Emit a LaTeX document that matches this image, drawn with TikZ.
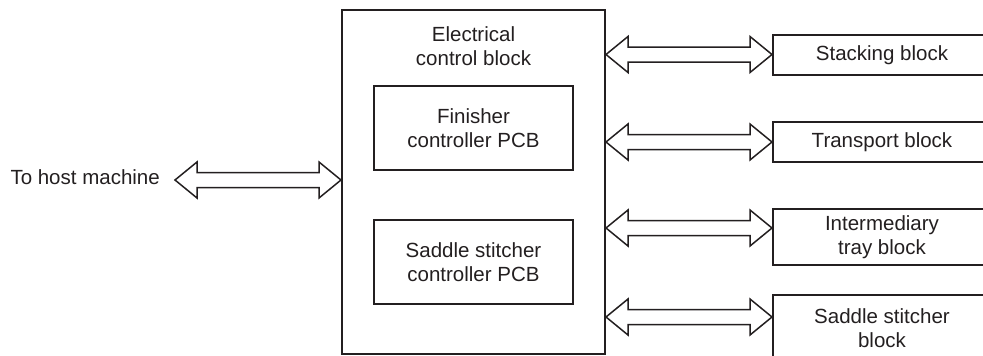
\documentclass[tikz,border=0pt]{standalone}
\usepackage{fontspec}
\setmainfont{Liberation Sans}
\usetikzlibrary{calc}
\definecolor{ink}{HTML}{231F20}
\begin{document}
\begin{tikzpicture}[x=1pt,y=-1pt,
  box/.style={draw=ink,line width=2pt,inner sep=0pt,font=\fontsize{20.5}{24}\selectfont,text=ink,align=center},
  lbl/.style={inner sep=0pt,font=\fontsize{20.5}{24}\selectfont,text=ink,align=center},
  arr/.style={draw=ink,line width=1.5pt,fill=white,line join=miter}]
\useasboundingbox (0,0) rectangle (983,356);
\clip (0,0) rectangle (983,356);
% main block
\node[box,minimum width=263pt,minimum height=344pt] (main) at (473.5,182) {};
\node[lbl] (mainlbl) at (473.5,46.5) {Electrical\\control block};
\node[box,minimum width=199pt,minimum height=84pt] (fin) at (473.5,128) {Finisher\\controller PCB};
\node[box,minimum width=199pt,minimum height=84pt] (sad) at (473.5,262) {Saddle stitcher\\controller PCB};
% right blocks
\node[box,minimum width=218pt,minimum height=40pt] (stack) at (882,55) {Stacking block};
\node[box,minimum width=218pt,minimum height=40pt] (trans) at (882,142) {Transport block};
\node[box,minimum width=218pt,minimum height=56pt] (inter) at (882,237) {Intermediary\\tray block};
\node[box,minimum width=218pt,minimum height=67pt] (sblk) at (882,328.5) {Saddle stitcher\\block};
% host label
\node[lbl,anchor=base east] (host) at (160,184.5) {To host machine};
% arrow end points
\coordinate (h1) at (175,180);
\coordinate (h2) at (main.west |- h1);
\coordinate (s1) at (main.east |- 0,54.5);
\coordinate (s2) at (stack.west |- s1);
\coordinate (t1) at (main.east |- 0,142);
\coordinate (t2) at (trans.west |- t1);
\coordinate (i1) at (main.east |- 0,228);
\coordinate (i2) at (inter.west |- i1);
\coordinate (b1) at (main.east |- 0,317);
\coordinate (b2) at (sblk.west |- b1);
\foreach \a/\b in {h1/h2,s1/s2,t1/t2,i1/i2,b1/b2}{
  \draw[arr] let \p1=(\a), \p2=(\b) in
    (\x1,\y1) -- (\x1+22pt,\y1+18pt) -- (\x1+22pt,\y1+7.5pt) -- (\x2-22pt,\y1+7.5pt)
    -- (\x2-22pt,\y1+18pt) -- (\x2,\y2) -- (\x2-22pt,\y1-18pt) -- (\x2-22pt,\y1-7.5pt)
    -- (\x1+22pt,\y1-7.5pt) -- (\x1+22pt,\y1-18pt) -- cycle;
}
\end{tikzpicture}
\end{document}
